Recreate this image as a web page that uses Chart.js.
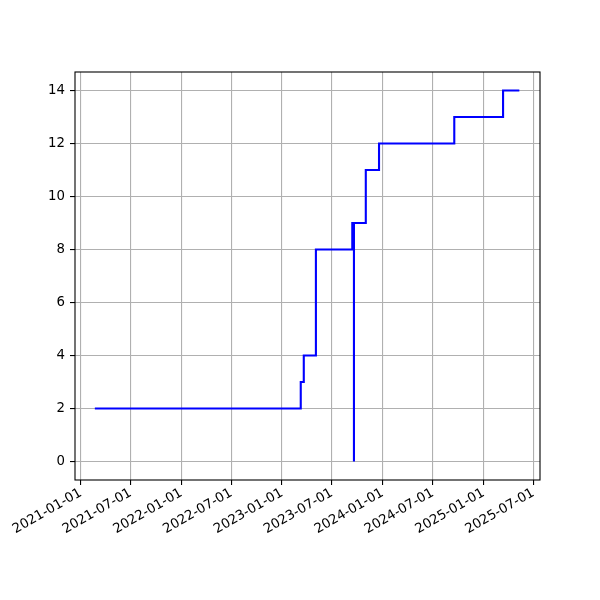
<!DOCTYPE html>
<html>
<head>
<meta charset="utf-8">
<script src="https://cdn.jsdelivr.net/npm/chart.js@4/dist/chart.umd.min.js"></script>
<style>
  html, body { margin: 0; padding: 0; background: #fff; }
</style>
</head>
<body>
<canvas id="stepChart" width="600" height="600"></canvas>
<script>
// Data: value holds from each date until the next one
const changeDates = ['2021-02-21', '2023-03-10', '2023-03-21', '2023-05-04', '2023-09-13',
                     '2023-09-19', '2023-09-19', '2023-11-01', '2023-12-19', '2024-09-17',
                     '2025-03-13', '2025-05-11'];
const counts = [2, 3, 4, 8, 9, 0, 9, 11, 12, 13, 14, 14];

const xTickLabels = ['2021-01-01', '2021-07-01', '2022-01-01', '2022-07-01', '2023-01-01',
                     '2023-07-01', '2024-01-01', '2024-07-01', '2025-01-01', '2025-07-01'];
const yTickValues = [0, 2, 4, 6, 8, 10, 12, 14];

const toTime = s => Date.parse(s + 'T00:00:00Z');
const points = changeDates.map((d, i) => ({ x: toTime(d), y: counts[i] }));

const FONT = { family: 'DejaVu Sans', size: 13.3 };

// Draw the full box around the axes area
const frame = {
    id: 'frame',
    afterDraw(chart) {
        const { ctx, chartArea: a } = chart;
        ctx.save();
        ctx.strokeStyle = '#000';
        ctx.lineWidth = 1.1;
        ctx.strokeRect(a.left, a.top, a.right - a.left, a.bottom - a.top);
        ctx.restore();
    }
};

new Chart(document.getElementById('stepChart').getContext('2d'), {
    type: 'line',
    data: {
        datasets: [{
            data: points,
            borderColor: '#0000ff',
            borderWidth: 2.1,
            stepped: 'before',
            pointRadius: 0,
            fill: false
        }]
    },
    options: {
        responsive: false,
        animation: false,
        layout: { padding: { top: 72, right: 60, left: 0, bottom: 0 } },
        plugins: { legend: { display: false }, tooltip: { enabled: false } },
        scales: {
            x: {
                type: 'linear',
                min: toTime('2020-12-11'),
                max: toTime('2025-07-25'),
                afterBuildTicks: scale => {
                    scale.ticks = xTickLabels.map(s => ({ value: toTime(s) }));
                },
                afterFit: scale => { scale.height = 120; },
                grid: { color: '#b0b0b0', lineWidth: 1.1, tickColor: '#000', tickLength: 5 },
                border: { display: false },
                ticks: {
                    color: '#000',
                    font: FONT,
                    padding: 0,
                    minRotation: 30,
                    maxRotation: 30,
                    autoSkip: false,
                    callback: (v, i) => xTickLabels[i]
                }
            },
            y: {
                min: -0.7,
                max: 14.7,
                afterBuildTicks: scale => {
                    scale.ticks = yTickValues.map(v => ({ value: v }));
                },
                afterFit: scale => { scale.width = 75; },
                grid: { color: '#b0b0b0', lineWidth: 1.1, tickColor: '#000', tickLength: 5 },
                border: { display: false },
                ticks: { color: '#000', font: FONT, padding: 5 }
            }
        }
    },
    plugins: [frame]
});
</script>
</body>
</html>
